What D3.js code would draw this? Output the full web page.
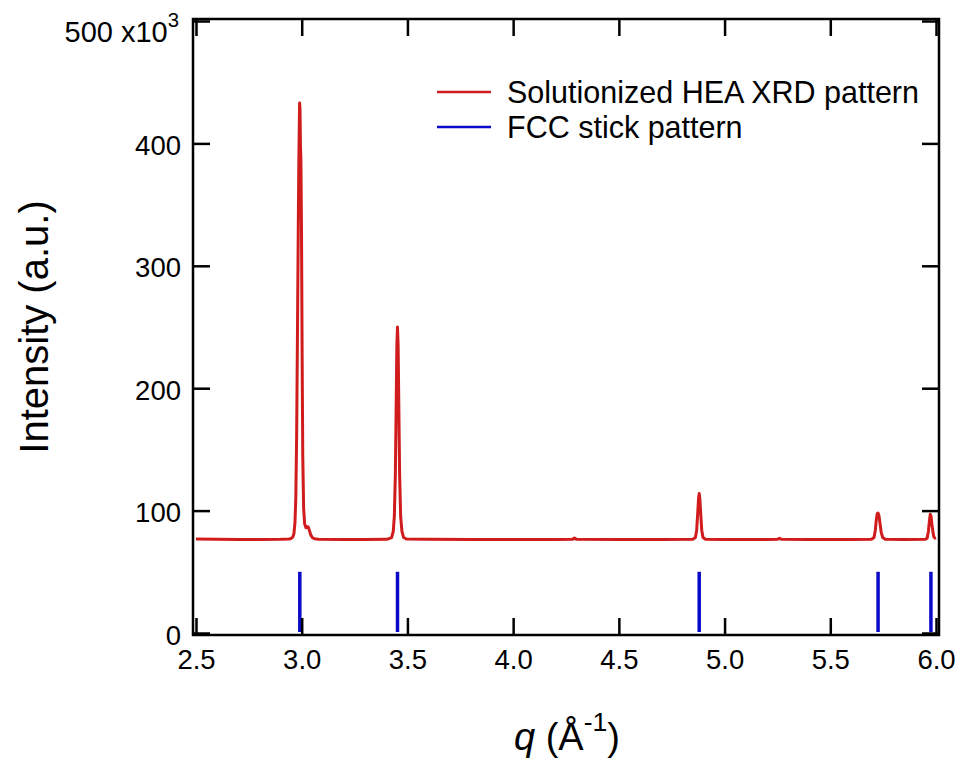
<!DOCTYPE html>
<html>
<head>
<meta charset="utf-8">
<script src="https://cdn.jsdelivr.net/npm/d3@7"></script>
<style>
  body { margin: 0; background: #fff; }
  svg text { font-family: Arial, "Liberation Sans", sans-serif; fill: #000; }
</style>
</head>
<body>
<div class="chart"></div>
<script>
// q values (Å^-1) of the measured pattern
const qValues = [
  2.50, 2.60, 2.70, 2.80, 2.90, 2.940, 2.950, 2.958, 2.963, 2.968, 2.972, 2.976,
  2.981, 2.986, 2.990, 2.992, 2.994, 2.996, 2.999, 3.002, 3.005, 3.009, 3.014,
  3.020, 3.026, 3.031, 3.036, 3.042, 3.050, 3.060, 3.080, 3.20, 3.30, 3.40,
  3.412, 3.425, 3.433, 3.438, 3.443, 3.447, 3.450, 3.453, 3.456, 3.459, 3.463,
  3.468, 3.474, 3.482, 3.495, 3.60, 3.80, 4.00, 4.20, 4.280, 4.290, 4.300,
  4.50, 4.70, 4.850, 4.862, 4.868, 4.873, 4.877, 4.880, 4.883, 4.887, 4.892,
  4.898, 4.910, 5.00, 5.20, 5.250, 5.260, 5.270, 5.40, 5.60, 5.695, 5.707,
  5.713, 5.718, 5.722, 5.726, 5.730, 5.735, 5.741, 5.748, 5.760, 5.85, 5.950,
  5.958, 5.964, 5.969, 5.973, 5.977, 5.981, 5.986, 5.990, 5.995, 6.000
];
// intensity (x10^3 counts)
const heaIntensity = [
  76.8, 76.5, 76.4, 76.4, 76.5, 76.8, 77.2, 78.5, 81, 90, 110, 160,
  270, 380, 433, 428, 398, 388, 330, 225, 145, 102, 89,
  86, 87, 86.5, 84, 80.5, 78, 77, 76.6, 76.4, 76.4, 76.5,
  77, 78, 83, 95, 130, 190, 235, 250, 235, 190, 130,
  95, 83, 78, 76.8, 76.5, 76.4, 76.4, 76.4, 76.5, 77.5, 76.5,
  76.4, 76.4, 76.6, 78, 84, 98, 110, 114, 110, 98, 84,
  78, 76.6, 76.4, 76.4, 76.5, 77.4, 76.5, 76.4, 76.4, 76.6, 78,
  84, 93, 97.5, 98, 96, 90, 82, 78, 76.6, 76.4, 76.6,
  77.5, 83, 92, 97, 95, 88, 82, 78.5, 77.5, 77.8
];

// FCC stick pattern
const stickQ = [2.991, 3.453, 4.880, 5.726, 5.976];
const stickIntensity = [50, 50, 50, 50, 50];

const xTicks = [2.5, 3.0, 3.5, 4.0, 4.5, 5.0, 5.5, 6.0];
const yTicks = [0, 100, 200, 300, 400, 500];

const legendLabels = ["Solutionized HEA XRD pattern", "FCC stick pattern"];
const red = "#d01c1c", blue = "#0a0ac8";

const W = 962, H = 759;
const frame = { left: 193, right: 939, top: 19, bottom: 635 };

const svg = d3
  .select(".chart")
  .append("svg")
  .attr("width", W)
  .attr("height", H);

const x = d3.scaleLinear().domain([2.5, 6.0]).range([196, 936]);
const y = d3.scaleLinear().domain([0, 500]).range([633, 21]);

// frame
svg
  .append("rect")
  .attr("x", frame.left)
  .attr("y", frame.top)
  .attr("width", frame.right - frame.left)
  .attr("height", frame.bottom - frame.top)
  .attr("fill", "none")
  .attr("stroke", "#000")
  .attr("stroke-width", 2.5);

// data
const series = qValues.map((q, i) => ({ q: q, v: heaIntensity[i] }));
const line = d3
  .line()
  .x((d) => x(d.q))
  .y((d) => y(d.v));

svg
  .append("path")
  .datum(series)
  .attr("fill", "none")
  .attr("stroke", red)
  .attr("stroke-width", 3)
  .attr("stroke-linejoin", "round")
  .attr("d", line);

svg
  .selectAll(".stick")
  .data(stickQ)
  .join("line")
  .attr("class", "stick")
  .attr("x1", (d) => x(d))
  .attr("x2", (d) => x(d))
  .attr("y1", y(0) - 1)
  .attr("y2", (d, i) => y(stickIntensity[i]))
  .attr("stroke", blue)
  .attr("stroke-width", 3.5);

// axes, ticks pointing inward
function styleAxis(g) {
  g.select(".domain").remove();
  g.selectAll(".tick line").attr("stroke", "#000").attr("stroke-width", 2.5);
  g.selectAll(".tick text").attr("font-size", 27.5).attr("fill", "#000");
}

svg
  .append("g")
  .attr("transform", `translate(0,${frame.bottom})`)
  .call(d3.axisBottom(x).tickValues(xTicks).tickFormat(d3.format(".1f")).tickSize(-17).tickSizeOuter(0).tickPadding(14))
  .call(styleAxis);

svg
  .append("g")
  .attr("transform", `translate(0,${frame.top})`)
  .call(d3.axisTop(x).tickValues(xTicks).tickFormat("").tickSize(-17).tickSizeOuter(0))
  .call(styleAxis);

const yAxis = svg
  .append("g")
  .attr("transform", `translate(${frame.left},0)`)
  .call(d3.axisLeft(y).tickValues(yTicks).tickSize(-17).tickSizeOuter(0).tickPadding(12))
  .call(styleAxis);

svg
  .append("g")
  .attr("transform", `translate(${frame.right},0)`)
  .call(d3.axisRight(y).tickValues(yTicks).tickFormat("").tickSize(-17).tickSizeOuter(0))
  .call(styleAxis);

// top label gets the x10^3 multiplier
yAxis
  .selectAll(".tick text")
  .filter((d) => d === 500)
  .attr("dy", "0.72em")
  .attr("x", -14)
  .attr("font-size", 29)
  .text("500 x10")
  .append("tspan")
  .attr("dy", "-0.75em")
  .attr("font-size", "0.7em")
  .text("3");

yAxis.selectAll(".tick text").filter((d) => d !== 500).attr("dy", "0.4em");

// axis titles
svg
  .append("text")
  .attr("transform", `translate(48,327) rotate(-90)`)
  .attr("text-anchor", "middle")
  .attr("font-size", 40)
  .text("Intensity (a.u.)");

const xt = svg
  .append("text")
  .attr("x", 567)
  .attr("y", 750)
  .attr("text-anchor", "middle")
  .attr("font-size", 38);
xt.append("tspan").attr("font-style", "italic").text("q");
xt.append("tspan").text(" (Å");
xt.append("tspan").attr("dy", "-0.7em").attr("font-size", "0.7em").text("-1");
xt.append("tspan").attr("dy", "0.49em").text(")");

// legend
const legend = svg.append("g");
legendLabels.forEach((label, i) => {
  const ly = 92 + i * 35;
  legend
    .append("line")
    .attr("x1", 437)
    .attr("x2", 491)
    .attr("y1", ly)
    .attr("y2", ly)
    .attr("stroke", i === 0 ? red : blue)
    .attr("stroke-width", 2.5);
  legend
    .append("text")
    .attr("x", 507)
    .attr("y", ly)
    .attr("dy", "0.36em")
    .attr("font-size", 30.5)
    .text(label);
});
</script>
</body>
</html>
